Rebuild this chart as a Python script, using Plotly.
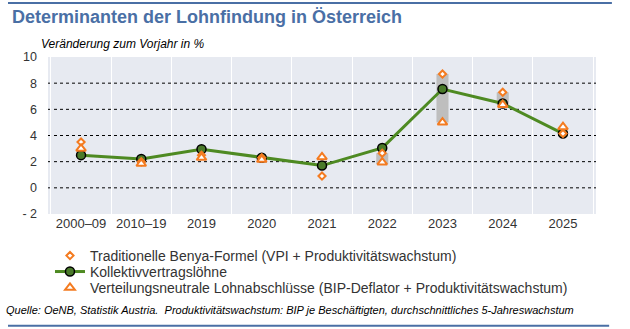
import plotly.graph_objects as go

categories = ["2000–09", "2010–19", "2019", "2020", "2021", "2022", "2023", "2024", "2025"]
kollektiv = [2.5, 2.2, 2.95, 2.3, 1.7, 3.05, 7.55, 6.45, 4.15]
benya = [3.5, 2.0, 2.5, 2.3, 0.9, 2.65, 8.7, 7.3, 4.15]
neutral = [3.0, 1.85, 2.3, 2.15, 2.35, 1.95, 5.0, 6.35, 4.65]
range_low = [None, None, None, None, None, 1.8, 5.0, 6.35, None]
range_high = [None, None, None, None, None, 2.65, 8.7, 7.3, None]
y_tickvals = [-2, 0, 2, 4, 6, 8, 10]
y_ticktext = ["- 2", "0", "2", "4", "6", "8", "10"]
grid_vals = [0, 2, 4, 6, 8]

ORANGE = "#F47B20"
GREEN = "#4E8A22"
BLUE = "#4A6FA5"
FONT = "Liberation Sans, Arial, sans-serif"

bar_len = [(h - l) if (h is not None and l is not None) else None for h, l in zip(range_high, range_low)]

fig = go.Figure()
fig.add_trace(go.Bar(x=categories, y=bar_len, base=range_low, width=0.2,
                     marker=dict(color="#BEBEBE", line=dict(width=0)),
                     showlegend=False, hoverinfo="skip"))
fig.add_trace(go.Scatter(x=categories, y=kollektiv, mode="lines+markers",
                         name="Kollektivvertragslöhne", legend="legend2",
                         line=dict(color=GREEN, width=3),
                         marker=dict(size=9, color="#4A7A2A", line=dict(color="black", width=1.5))))
fig.add_trace(go.Scatter(x=categories, y=benya, mode="markers",
                         name="Traditionelle Benya-Formel (VPI + Produktivitätswachstum)", legend="legend",
                         marker=dict(symbol="diamond", size=5.5, color="white", line=dict(color=ORANGE, width=2))))
fig.add_trace(go.Scatter(x=categories, y=neutral, mode="markers",
                         name="Verteilungsneutrale Lohnabschlüsse (BIP-Deflator + Produktivitätswachstum)", legend="legend3",
                         marker=dict(symbol="triangle-up", size=8.5, color="white", line=dict(color=ORANGE, width=2))))

shapes = []
for g in grid_vals:
    shapes.append(dict(type="line", xref="paper", yref="y", x0=0, x1=1, y0=g, y1=g,
                       line=dict(color="black", width=1, dash="dot"), layer="below"))
shapes.append(dict(type="line", xref="paper", yref="paper", x0=-0.073, x1=1.029, y0=1.344, y1=1.344,
                   line=dict(color=BLUE, width=2)))
shapes.append(dict(type="line", xref="paper", yref="paper", x0=-0.073, x1=1.024, y0=-0.712, y1=-0.712,
                   line=dict(color=BLUE, width=2)))
fig.update_layout(shapes=shapes)

fig.add_annotation(text="<b>Determinanten der Lohnfindung in Österreich</b>", xref="paper", yref="paper",
                   x=-0.069, y=1.255, xanchor="left", yanchor="middle", showarrow=False,
                   font=dict(family=FONT, size=18, color=BLUE))
fig.add_annotation(text="<i>Veränderung zum Vorjahr in %</i>", xref="paper", yref="paper",
                   x=-0.017, y=1.08, xanchor="left", yanchor="middle", showarrow=False,
                   font=dict(family=FONT, size=12, color="black"))
fig.add_annotation(text="<i>Quelle: OeNB, Statistik Austria.  Produktivitätswachstum: BIP je Beschäftigten, durchschnittliches 5-Jahreswachstum</i>",
                   xref="paper", yref="paper", x=-0.08, y=-0.612, xanchor="left", yanchor="middle",
                   showarrow=False, font=dict(family=FONT, size=11, color="black"))

leg_common = dict(x=0.0036, xanchor="left", yanchor="middle", bgcolor="rgba(0,0,0,0)",
                  font=dict(family=FONT, size=14, color="#333333"), itemwidth=30,
                  borderwidth=0)

fig.update_layout(
    width=630, height=329,
    margin=dict(l=48, r=34, t=57, b=115, autoexpand=False),
    paper_bgcolor="white", plot_bgcolor="#E7EAF1",
    barmode="overlay",
    font=dict(family=FONT, size=12.5, color="#333333"),
    showlegend=True,
    legend=dict(y=-0.2675, **leg_common),
    legend2=dict(y=-0.369, **leg_common),
    legend3=dict(y=-0.471, **leg_common),
    xaxis=dict(type="category", tickson="boundaries", showgrid=True, gridcolor="white", gridwidth=1,
               ticks="", showline=False, zeroline=False, tickfont=dict(size=13, color="#333333")),
    yaxis=dict(range=[-2, 10], tickvals=y_tickvals, ticktext=y_ticktext, showgrid=False,
               zeroline=False, showline=False, ticks="", ticklabelstandoff=10,
               tickfont=dict(size=12.5, color="#333333")),
)

fig.write_html("out.html")
